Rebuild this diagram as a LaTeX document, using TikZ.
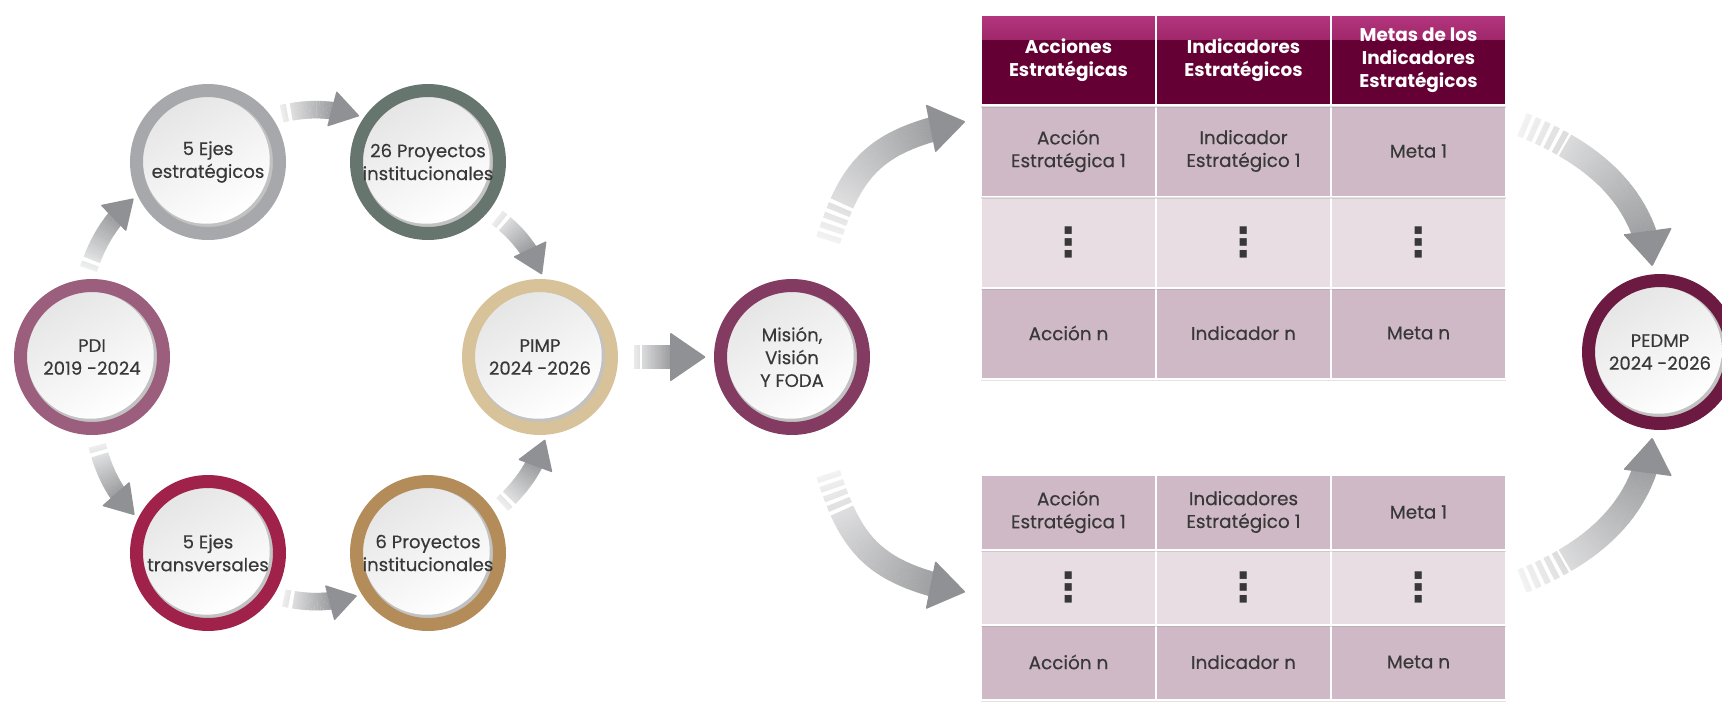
\documentclass[tikz,border=0pt]{standalone}
\usepackage{fontspec}
\setmainfont{Poppins}
\newfontfamily\medio{Poppins}[FakeBold=0.35]
\newfontfamily\puntos{DejaVu Sans}
\usepackage{tikz}
\usetikzlibrary{decorations.markings,shadows}
\definecolor{textogris}{HTML}{383838}
\definecolor{grisflecha}{HTML}{7C7D81}
\definecolor{anillopdi}{HTML}{9B5E7D}
\definecolor{anilloejese}{HTML}{A7A8AC}
\definecolor{anilloproyv}{HTML}{66766F}
\definecolor{anillopimp}{HTML}{D7C299}
\definecolor{anilloejet}{HTML}{A0224A}
\definecolor{anilloproyc}{HTML}{B48C5A}
\definecolor{anillomision}{HTML}{843B61}
\definecolor{anillopedmp}{HTML}{6D1A43}
\definecolor{vino}{HTML}{640033}
\definecolor{vinoclaro}{HTML}{B5367F}
\definecolor{rosa}{HTML}{CFB9C6}
\definecolor{rosaclaro}{HTML}{E7DDE3}
\newcommand{\grosor}{0.26cm}
\newcommand{\diametro}{2.86cm}
\newcommand{\pasoflecha}{0.8}
%un tramo del cuerpo de la flecha
\newcommand{\tramo}[2]{%
  \pgfmathsetmacro{\fr}{\pgfkeysvalueof{/pgf/decoration/mark info/sequence number}*\pasoflecha/(\pgfdecoratedpathlength-(#2))}%
  \pgfmathtruncatemacro{\raya}{mod(\pgfkeysvalueof{/pgf/decoration/mark info/sequence number},7)}%
  \pgfmathsetmacro{\tono}{min(8+64*\fr,75)}%
  \ifdim\fr pt<0.3pt
    \ifnum\raya<3 \else\fill[grisflecha!\tono!white] (-0.5pt,-#1/2) rectangle (0.5pt,#1/2);\fi
  \else
    \fill[grisflecha!\tono!white] (-0.5pt,-#1/2) rectangle (0.5pt,#1/2);
  \fi}
%la punta
\newcommand{\punta}[2]{%
  \fill[grisflecha!85!white, rounded corners=0.6pt] (0.4pt,0) -- (-#2,#1/2) -- (-#2,-#1/2) -- cycle;}

\tikzset{
  circulo/.style={circle, draw=#1, line width=\grosor, minimum size=\diametro, inner sep=0pt,
    align=center, text=textogris, font=\fontsize{10.3}{13}\selectfont\medio,
    path picture={\fill[black!24] (path picture bounding box.center) circle (1.32cm);
      \shade[top color=gray!20, bottom color=white, shading angle=30]
        ([shift={(-0.035cm,0.035cm)}]path picture bounding box.center) circle (1.27cm);}},
  celda/.style={rectangle, fill=#1, draw=white, line width=0.04cm, minimum width=3.5cm,
    inner sep=1pt, align=center, text=textogris, font=\fontsize{10.5}{13}\selectfont\medio,
    drop shadow={opacity=0.22, shadow xshift=0pt, shadow yshift=-1.3pt}},
  alta/.style={minimum height=1.82cm},
  baja/.style={minimum height=1.5cm},
  cabecera/.style={celda=vino, text=white, font=\fontsize{10.5}{13}\selectfont\bfseries,
    path picture={\shade[top color=vinoclaro, bottom color=vino]
      (path picture bounding box.north west) rectangle ([yshift=-0.5cm]path picture bounding box.north east);}},
  puntos/.style={celda=rosaclaro, font=\fontsize{23}{23}\selectfont\puntos\bfseries},
  flecha/.style n args={5}{postaction={decorate}, decoration={markings,
      mark=between positions #4 and -#3-#5+1pt step \pasoflecha pt with {\tramo{#1}{#4+#3+#5}},
      mark=at position -#5 with {\punta{#2}{#3}}}},
  chica/.style={flecha={10pt}{21pt}{16pt}{5pt}{3pt}},
  grande/.style={flecha={14pt}{28pt}{20pt}{#1}{5pt}},
}

\begin{document}
\begin{tikzpicture}[x=0.02cm, y=-0.02cm]
\useasboundingbox (0,0) rectangle (1722,701);
%circulos
\node[circulo=anillopdi] (1) at (92,357) {PDI\\2019 -2024};
\node[circulo=anilloejese] (2) at (208,162) {5 Ejes\\estratégicos};
\node[circulo=anilloproyv] (3) at (428,162) {26 Proyectos\\institucionales};
\node[circulo=anillopimp] (4) at (540,357) {PIMP\\2024 -2026};
\node[circulo=anilloejet] (5) at (208,553) {5 Ejes\\transversales};
\node[circulo=anilloproyc] (6) at (428,553) {6 Proyectos\\institucionales};
\node[circulo=anillomision] (7) at (792,357) {Misión,\\Visión\\Y FODA};
\node[circulo=anillopedmp] (8) at (1660,352) {PEDMP\\2024 -2026};
%tabla de arriba, de abajo hacia arriba por las sombras
\node[celda=rosa, alta] (a3) at (1068.5,333) {Acción n};
\node[celda=rosa, alta] (b3) at (1243.5,333) {Indicador n};
\node[celda=rosa, alta] (c3) at (1418.5,333) {Meta n};
\node[puntos, alta] (a2) at (1068.5,242) {⋮};
\node[puntos, alta] (b2) at (1243.5,242) {⋮};
\node[puntos, alta] (c2) at (1418.5,242) {⋮};
\node[celda=rosa, alta] (a1) at (1068.5,151) {Acción\\Estratégica 1};
\node[celda=rosa, alta] (b1) at (1243.5,151) {Indicador\\Estratégico 1};
\node[celda=rosa, alta] (c1) at (1418.5,151) {Meta 1};
\node[cabecera, alta] (h1) at (1068.5,60) {Acciones\\Estratégicas};
\node[cabecera, alta] (h2) at (1243.5,60) {Indicadores\\Estratégicos};
\node[cabecera, alta] (h3) at (1418.5,60) {Metas de los\\Indicadores\\Estratégicos};
%tabla de abajo
\node[celda=rosa, baja] (d3) at (1068.5,662) {Acción n};
\node[celda=rosa, baja] (e3) at (1243.5,662) {Indicador n};
\node[celda=rosa, baja] (f3) at (1418.5,662) {Meta n};
\node[puntos, baja] (d2) at (1068.5,587) {⋮};
\node[puntos, baja] (e2) at (1243.5,587) {⋮};
\node[puntos, baja] (f2) at (1418.5,587) {⋮};
\node[celda=rosa, baja] (d1) at (1068.5,512) {Acción\\Estratégica 1};
\node[celda=rosa, baja] (e1) at (1243.5,512) {Indicadores\\Estratégico 1};
\node[celda=rosa, baja] (f1) at (1418.5,512) {Meta 1};
%flechas
\path[chica] (1.95) to[bend left=15] (2.205);
\path[chica] (2.36) to[bend left=15] (3.145);
\path[chica] (3.-39) to[bend left=15] (4.87);
\path[chica] (1.-88) to[bend right=15] (5.154);
\path[chica] (5.-33) to[bend right=15] (6.212);
\path[chica] (6.32) to[bend right=15] (4.-85);
\path[grande=8pt] (4.0) -- (7.180);
\path[flecha={14pt}{28pt}{20pt}{24pt}{9pt}] (7.72) to[out=75, in=190, looseness=1.3] (a1.160);
\path[flecha={14pt}{28pt}{20pt}{24pt}{9pt}] (7.-72) to[out=-75, in=170, looseness=1.3] (d2.185);
\path[grande=8pt] (c1.20) to[out=-20, in=95] (8.95);
\path[grande=8pt] (f2.east) to[out=20, in=-95] (8.-95);
\end{tikzpicture}
\end{document}
